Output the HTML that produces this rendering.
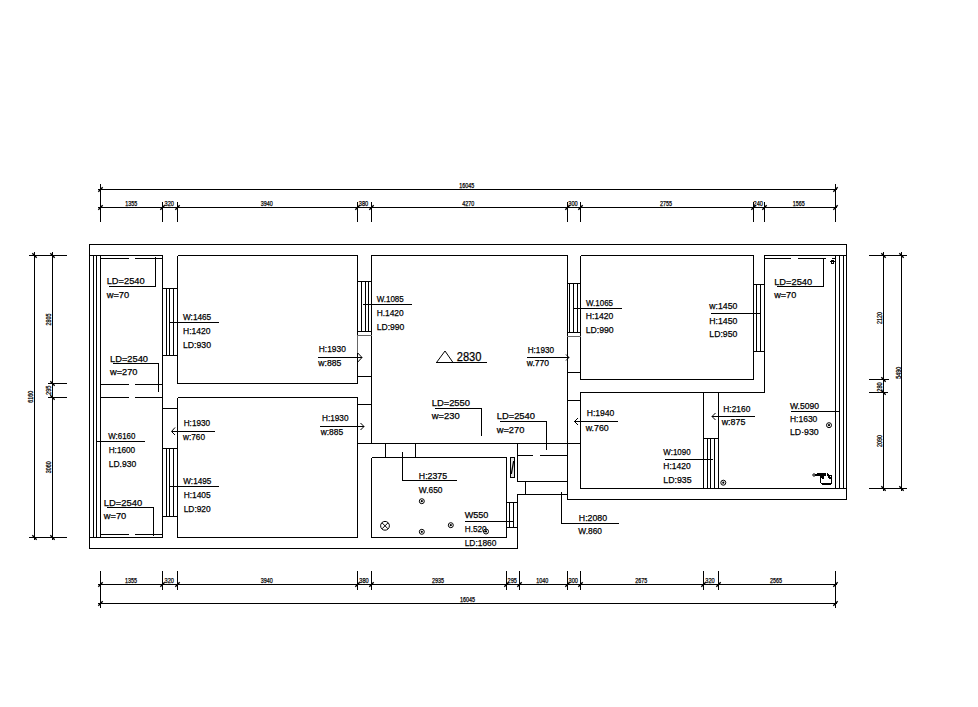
<!DOCTYPE html>
<html><head><meta charset="utf-8"><title>plan</title>
<style>html,body{margin:0;padding:0;background:#fff}svg{display:block}text{font-family:"Liberation Sans",sans-serif;fill:#000;stroke:#000;stroke-width:0.25px}</style></head>
<body>
<svg width="978" height="707" viewBox="0 0 978 707">
<rect width="978" height="707" fill="#fff"/>
<g stroke="#000" stroke-width="1" fill="none" shape-rendering="crispEdges">
<path d="M89 244.5L847 244.5M89.5 244L89.5 549M846.5 244L846.5 500M567 499.5L847 499.5M89 548.5L518 548.5M93.5 255L93.5 538M96.5 255L96.5 538M100.5 255L100.5 538M89 255.5L163 255.5M162.5 255L162.5 538M89 537.5L163 537.5M100 258.5L129 258.5M135 258.5L163 258.5M100 384.5L129 384.5M135 384.5L163 384.5M100 397.5L129 397.5M135 397.5L163 397.5M100 534.5L129 534.5M135 534.5L163 534.5M162 288.5L178 288.5M162 355.5L178 355.5M166.5 288L166.5 356M169.5 288L169.5 356M173.5 288L173.5 356M162 408.5L178 408.5M162 448.5L178 448.5M162 516.5L178 516.5M166.5 448L166.5 517M169.5 448L169.5 517M173.5 448L173.5 517M177.5 255.5L357.5 255.5M177.5 383.5L357.5 383.5M177.5 255.5L177.5 383.5M357.5 255.5L357.5 383.5M177.5 397.5L357.5 397.5M177.5 537.5L357.5 537.5M177.5 397.5L177.5 537.5M357.5 397.5L357.5 537.5M357 281.5L372 281.5M357 331.5L372 331.5M361.5 281L361.5 332M365.5 281L365.5 332M368.5 281L368.5 332M357 376.5L372 376.5M357 404.5L372 404.5M371 255.5L568 255.5M371.5 255L371.5 444M567.5 255L567.5 500M357 443.5L581 443.5M371.5 457.5L506.5 457.5M371.5 537.5L506.5 537.5M371.5 457.5L371.5 537.5M506.5 457.5L506.5 537.5M385.5 443L385.5 458M415.5 443L415.5 458M506 502.5L518 502.5M506 527.5L518 527.5M509.5 502L509.5 528M513.5 502L513.5 528M517.5 443L517.5 482M517.5 494L517.5 549M517 481.5L568 481.5M525.5 481L525.5 495M517 494.5L568 494.5M517 455.5L533 455.5M540 455.5L568 455.5M567 283.5L581 283.5M567 332.5L581 332.5M569.5 283L569.5 333M573.5 283L573.5 333M577.5 283L577.5 333M567 372.5L581 372.5M567 400.5L581 400.5M580.5 255.5L753.5 255.5M580.5 379.5L753.5 379.5M580.5 255.5L580.5 379.5M753.5 255.5L753.5 379.5M580.5 392L580.5 489M580 392.5L765 392.5M580 488.5L847 488.5M703.5 392L703.5 489M718.5 392L718.5 489M703 438.5L719 438.5M707.5 438L707.5 489M710.5 438L710.5 489M714.5 438L714.5 489M764.5 255L764.5 393M764 255.5L847 255.5M835.5 255L835.5 489M839.5 255L839.5 489M843.5 255L843.5 489M764 258.5L791 258.5M798 258.5L826 258.5M753 284.5L765 284.5M753 351.5L765 351.5M756.5 284L756.5 352M760.5 284L760.5 352M109 286.5L155.5 286.5M155.5 286.5L155.5 257M113 363.5L158.5 363.5M158.5 363.5L158.5 391.5M107 507.5L153.5 507.5M153.5 507.5L153.5 535.5M169 322.5L219 322.5M169 486.5L219 486.5M96 441.5L145 441.5M172 431.5L215 431.5M318 357.5L362 357.5M320 426.5L364 426.5M363 304.5L412 304.5M527 357.5L569 357.5M573 308.5L622 308.5M711 313.5L761 313.5M777 286.5L823.5 286.5M823.5 286.5L823.5 258M435 408.5L481.5 408.5M481.5 408.5L481.5 436M500 421.5L546.5 421.5M546.5 421.5L546.5 450M574 421.5L618 421.5M402.5 452L402.5 480.5M402.5 480.5L457 480.5M465 521.5L514 521.5M561.5 492L561.5 523.5M561.5 523.5L619 523.5M712 416.5L755 416.5M791 411.5L839 411.5M665 459.5L713 459.5M436 362.5L487 362.5M98 189.5L837 189.5M98 207.5L837 207.5M100.5 184L100.5 222M835.5 184L835.5 222M162.5 202L162.5 222M177.5 202L177.5 222M357.5 202L357.5 222M371.5 202L371.5 222M567.5 202L567.5 222M580.5 202L580.5 222M753.5 202L753.5 222M764.5 202L764.5 222M98 584.5L837 584.5M98 603.5L837 603.5M100.5 571L100.5 608M835.5 571L835.5 608M162.5 571L162.5 590M177.5 571L177.5 590M357.5 571L357.5 590M371.5 571L371.5 590M506.5 571L506.5 590M519.5 571L519.5 590M567.5 571L567.5 590M580.5 571L580.5 590M703.5 571L703.5 590M718.5 571L718.5 590M34.5 252L34.5 540M52.5 252L52.5 540M29 255.5L67 255.5M29 537.5L67 537.5M48 383.5L67 383.5M48 397.5L67 397.5M883.5 252L883.5 491M901.5 252L901.5 491M869 255.5L907 255.5M869 488.5L907 488.5M869 379.5L889 379.5M869 392.5L888 392.5"/>
</g>
<g stroke="#666" stroke-width="1" fill="none" shape-rendering="crispEdges">
<path d="M357 335.5L372 335.5M357.5 336L357.5 353M567 336.5L581 336.5"/>
</g>
<g stroke="#000" stroke-width="1" fill="none">
<path stroke-width="1.4" d="M98.3 191.7l4.4 -4.4M98.3 605.7l4.4 -4.4M833.3 191.7l4.4 -4.4M833.3 605.7l4.4 -4.4M98.3 209.7l4.4 -4.4M160.3 209.7l4.4 -4.4M175.3 209.7l4.4 -4.4M355.3 209.7l4.4 -4.4M369.3 209.7l4.4 -4.4M565.3 209.7l4.4 -4.4M578.3 209.7l4.4 -4.4M751.3 209.7l4.4 -4.4M762.3 209.7l4.4 -4.4M833.3 209.7l4.4 -4.4M98.3 586.7l4.4 -4.4M160.3 586.7l4.4 -4.4M175.3 586.7l4.4 -4.4M355.3 586.7l4.4 -4.4M369.3 586.7l4.4 -4.4M504.3 586.7l4.4 -4.4M517.3 586.7l4.4 -4.4M565.3 586.7l4.4 -4.4M578.3 586.7l4.4 -4.4M701.3 586.7l4.4 -4.4M716.3 586.7l4.4 -4.4M833.3 586.7l4.4 -4.4M32.3 253.3l4.4 4.4M50.3 253.3l4.4 4.4M32.3 535.3l4.4 4.4M50.3 535.3l4.4 4.4M50.3 381.3l4.4 4.4M50.3 395.3l4.4 4.4M881.3 253.3l4.4 4.4M899.3 253.3l4.4 4.4M881.3 486.3l4.4 4.4M899.3 486.3l4.4 4.4M881.3 377.3l4.4 4.4M881.3 390.3l4.4 4.4"/>
<path d="M175 427.5L171.5 431.5L175 435"/>
<path d="M357.8 353L362 357.5L357.8 362"/>
<path d="M360.5 423L364 426.5L360.5 430"/>
<path d="M566 354.5L569 357.5L566 360.5"/>
<path d="M578 418L574.5 421.5L578 425"/>
<path d="M715.5 413L712 416.5L715.5 420"/>
<path d="M436.5 362.5L445 351L453 362.5"/>
<circle cx="829" cy="425.2" r="2.5"/><circle cx="829" cy="425.2" r="1.1" fill="#000" stroke="none"/>
<circle cx="723.3" cy="482.7" r="2.5"/><circle cx="723.3" cy="482.7" r="1.1" fill="#000" stroke="none"/>
<circle cx="421.8" cy="501.2" r="2.5"/><circle cx="421.8" cy="501.2" r="1.1" fill="#000" stroke="none"/>
<circle cx="421.8" cy="531.8" r="2.5"/><circle cx="421.8" cy="531.8" r="1.1" fill="#000" stroke="none"/>
<circle cx="450.8" cy="525.2" r="2.5"/><circle cx="450.8" cy="525.2" r="1.1" fill="#000" stroke="none"/>
<circle cx="486" cy="531.5" r="2.5"/><circle cx="486" cy="531.5" r="1.1" fill="#000" stroke="none"/>
<circle cx="385" cy="525.8" r="4.4"/><path d="M382 522.8l6 6M388 522.8l-6 6"/>
<rect x="510.5" y="457.5" width="4" height="20" fill="#e4e4e4"/><path d="M511.3 474L513.7 461" stroke-width="1.3"/>
<circle cx="814" cy="475" r="1.2" fill="#fff"/><g fill="#000" stroke="none" shape-rendering="crispEdges"><path d="M815.2 474h2v-1h9v3h-11z"/><path d="M820 476h4v3h-2v-1.3h-1v5.3h-1z"/><path d="M827 473h1l1.5 2h2.6v8.6h-1v-5h-2.1l-1-1.2v-1.4h-1z"/><path d="M820.5 482.8h11.6v0.8l-1 1.2h-9.1l-1.5-1.2z"/><rect x="830" y="476" width="1" height="1" fill="#fff"/></g>
<g fill="#000" stroke="none" shape-rendering="crispEdges"><rect x="832" y="258" width="4" height="1"/><rect x="831" y="260" width="3" height="1"/><rect x="830" y="261" width="5" height="1"/><rect x="831" y="262" width="3" height="2"/><rect x="832" y="262" width="1" height="1" fill="#fff"/></g>
</g>
<g font-size="9.3">
<text x="106.7" y="283.7" textLength="38" lengthAdjust="spacingAndGlyphs">LD=2540</text>
<text x="106.7" y="297.5" textLength="22.5" lengthAdjust="spacingAndGlyphs">w=70</text>
<text x="183" y="320.3" textLength="28.2" lengthAdjust="spacingAndGlyphs">W:1465</text>
<text x="183" y="333.7" textLength="27.5" lengthAdjust="spacingAndGlyphs">H:1420</text>
<text x="183" y="347.5" textLength="28" lengthAdjust="spacingAndGlyphs">LD:930</text>
<text x="110" y="361.7" textLength="38" lengthAdjust="spacingAndGlyphs">LD=2540</text>
<text x="110" y="375.3" textLength="27.5" lengthAdjust="spacingAndGlyphs">w=270</text>
<text x="183.7" y="426.2" textLength="26.5" lengthAdjust="spacingAndGlyphs">H:1930</text>
<text x="183" y="440" textLength="22" lengthAdjust="spacingAndGlyphs">w:760</text>
<text x="108.3" y="439.2" textLength="27" lengthAdjust="spacingAndGlyphs">W:6160</text>
<text x="108.7" y="453" textLength="26.5" lengthAdjust="spacingAndGlyphs">H:1600</text>
<text x="108.7" y="466.7" textLength="27.5" lengthAdjust="spacingAndGlyphs">LD.930</text>
<text x="103.8" y="505.5" textLength="38.5" lengthAdjust="spacingAndGlyphs">LD=2540</text>
<text x="103.8" y="518.7" textLength="22.5" lengthAdjust="spacingAndGlyphs">w=70</text>
<text x="183.3" y="484.2" textLength="28" lengthAdjust="spacingAndGlyphs">W:1495</text>
<text x="183.7" y="497.8" textLength="27" lengthAdjust="spacingAndGlyphs">H:1405</text>
<text x="183.7" y="511.7" textLength="27" lengthAdjust="spacingAndGlyphs">LD:920</text>
<text x="318.8" y="352.2" textLength="27" lengthAdjust="spacingAndGlyphs">H:1930</text>
<text x="318.3" y="366" textLength="23" lengthAdjust="spacingAndGlyphs">w:885</text>
<text x="322" y="421.1" textLength="26.5" lengthAdjust="spacingAndGlyphs">H:1930</text>
<text x="320.7" y="435.4" textLength="22.5" lengthAdjust="spacingAndGlyphs">w:885</text>
<text x="376.7" y="301.7" textLength="27" lengthAdjust="spacingAndGlyphs">W.1085</text>
<text x="376.7" y="316" textLength="27" lengthAdjust="spacingAndGlyphs">H.1420</text>
<text x="376.7" y="329.7" textLength="27.7" lengthAdjust="spacingAndGlyphs">LD:990</text>
<text x="527.7" y="352.7" textLength="26.3" lengthAdjust="spacingAndGlyphs">H:1930</text>
<text x="526.7" y="366.3" textLength="22.3" lengthAdjust="spacingAndGlyphs">w.770</text>
<text x="586" y="305.7" textLength="27" lengthAdjust="spacingAndGlyphs">W.1065</text>
<text x="585.7" y="319.3" textLength="27.7" lengthAdjust="spacingAndGlyphs">H:1420</text>
<text x="585.7" y="333" textLength="28" lengthAdjust="spacingAndGlyphs">LD:990</text>
<text x="709.3" y="309.3" textLength="28" lengthAdjust="spacingAndGlyphs">w:1450</text>
<text x="709.3" y="323.7" textLength="28" lengthAdjust="spacingAndGlyphs">H:1450</text>
<text x="709.3" y="337.3" textLength="28" lengthAdjust="spacingAndGlyphs">LD:950</text>
<text x="774.2" y="284.7" textLength="38" lengthAdjust="spacingAndGlyphs">LD=2540</text>
<text x="774.2" y="297.5" textLength="22" lengthAdjust="spacingAndGlyphs">w=70</text>
<text x="431.7" y="405.7" textLength="38.3" lengthAdjust="spacingAndGlyphs">LD=2550</text>
<text x="431.7" y="419.3" textLength="28" lengthAdjust="spacingAndGlyphs">w=230</text>
<text x="496.7" y="419.3" textLength="38.3" lengthAdjust="spacingAndGlyphs">LD=2540</text>
<text x="496.7" y="433.3" textLength="27.7" lengthAdjust="spacingAndGlyphs">w=270</text>
<text x="586.7" y="416.3" textLength="27.7" lengthAdjust="spacingAndGlyphs">H:1940</text>
<text x="585.7" y="430.7" textLength="23" lengthAdjust="spacingAndGlyphs">w.760</text>
<text x="418.8" y="478.7" textLength="28.3" lengthAdjust="spacingAndGlyphs">H:2375</text>
<text x="418.8" y="492.5" textLength="23.7" lengthAdjust="spacingAndGlyphs">W.650</text>
<text x="464.7" y="518.3" textLength="23.7" lengthAdjust="spacingAndGlyphs">W550</text>
<text x="464.7" y="532" textLength="22" lengthAdjust="spacingAndGlyphs">H.520</text>
<text x="464.7" y="546.2" textLength="31.7" lengthAdjust="spacingAndGlyphs">LD:1860</text>
<text x="578.8" y="520.8" textLength="28.3" lengthAdjust="spacingAndGlyphs">H:2080</text>
<text x="578.3" y="534.2" textLength="23.7" lengthAdjust="spacingAndGlyphs">W.860</text>
<text x="723.3" y="411.7" textLength="27" lengthAdjust="spacingAndGlyphs">H:2160</text>
<text x="721.7" y="425" textLength="23.7" lengthAdjust="spacingAndGlyphs">w:875</text>
<text x="790" y="408.5" textLength="29" lengthAdjust="spacingAndGlyphs">W.5090</text>
<text x="790" y="422" textLength="27.3" lengthAdjust="spacingAndGlyphs">H:1630</text>
<text x="790" y="435.4" textLength="28.7" lengthAdjust="spacingAndGlyphs">LD·930</text>
<text x="663.3" y="455.3" textLength="27.3" lengthAdjust="spacingAndGlyphs">W:1090</text>
<text x="663.3" y="469.3" textLength="27.3" lengthAdjust="spacingAndGlyphs">H:1420</text>
<text x="663.3" y="483.3" textLength="28.3" lengthAdjust="spacingAndGlyphs">LD:935</text>
</g>
<text x="456.7" y="361" font-size="13.5" textLength="24.8" lengthAdjust="spacingAndGlyphs" stroke="none">2830</text>
<g font-size="7" text-anchor="middle">
<text x="466.7" y="187.6" textLength="15" lengthAdjust="spacingAndGlyphs">16045</text>
<text x="467.5" y="601.8" textLength="15" lengthAdjust="spacingAndGlyphs">16045</text>
<text x="131.2" y="205.7" textLength="12" lengthAdjust="spacingAndGlyphs">1355</text>
<text x="169.3" y="205.7" textLength="9.4" lengthAdjust="spacingAndGlyphs">320</text>
<text x="266.7" y="205.7" textLength="12" lengthAdjust="spacingAndGlyphs">3940</text>
<text x="363.5" y="205.7" textLength="9.4" lengthAdjust="spacingAndGlyphs">380</text>
<text x="468.3" y="205.7" textLength="12" lengthAdjust="spacingAndGlyphs">4270</text>
<text x="573" y="205.7" textLength="9.4" lengthAdjust="spacingAndGlyphs">300</text>
<text x="666" y="205.7" textLength="12" lengthAdjust="spacingAndGlyphs">2755</text>
<text x="758.3" y="205.7" textLength="9.4" lengthAdjust="spacingAndGlyphs">240</text>
<text x="798.7" y="205.7" textLength="12" lengthAdjust="spacingAndGlyphs">1565</text>
<text x="131" y="582.6" textLength="12" lengthAdjust="spacingAndGlyphs">1355</text>
<text x="169.3" y="582.6" textLength="9.4" lengthAdjust="spacingAndGlyphs">320</text>
<text x="266.7" y="582.6" textLength="12" lengthAdjust="spacingAndGlyphs">3940</text>
<text x="364" y="582.6" textLength="9.4" lengthAdjust="spacingAndGlyphs">380</text>
<text x="438" y="582.6" textLength="12" lengthAdjust="spacingAndGlyphs">2935</text>
<text x="512.3" y="582.6" textLength="9.4" lengthAdjust="spacingAndGlyphs">295</text>
<text x="542.3" y="582.6" textLength="12" lengthAdjust="spacingAndGlyphs">1040</text>
<text x="573.3" y="582.6" textLength="9.4" lengthAdjust="spacingAndGlyphs">300</text>
<text x="641.3" y="582.6" textLength="12" lengthAdjust="spacingAndGlyphs">2675</text>
<text x="710" y="582.6" textLength="9.4" lengthAdjust="spacingAndGlyphs">320</text>
<text x="776" y="582.6" textLength="12" lengthAdjust="spacingAndGlyphs">2565</text>
<text transform="translate(51.2 319.6) rotate(-90)" textLength="12" lengthAdjust="spacingAndGlyphs">2805</text>
<text transform="translate(51.2 390.3) rotate(-90)" textLength="9.4" lengthAdjust="spacingAndGlyphs">295</text>
<text transform="translate(51.2 467.2) rotate(-90)" textLength="12" lengthAdjust="spacingAndGlyphs">3060</text>
<text transform="translate(33.1 396.7) rotate(-90)" textLength="12" lengthAdjust="spacingAndGlyphs">6160</text>
<text transform="translate(881.8 318) rotate(-90)" textLength="12" lengthAdjust="spacingAndGlyphs">2120</text>
<text transform="translate(881.8 387) rotate(-90)" textLength="9.4" lengthAdjust="spacingAndGlyphs">280</text>
<text transform="translate(881.8 441) rotate(-90)" textLength="12" lengthAdjust="spacingAndGlyphs">2090</text>
<text transform="translate(900.6 372.8) rotate(-90)" textLength="12" lengthAdjust="spacingAndGlyphs">5490</text>
</g>
</svg>
</body></html>
